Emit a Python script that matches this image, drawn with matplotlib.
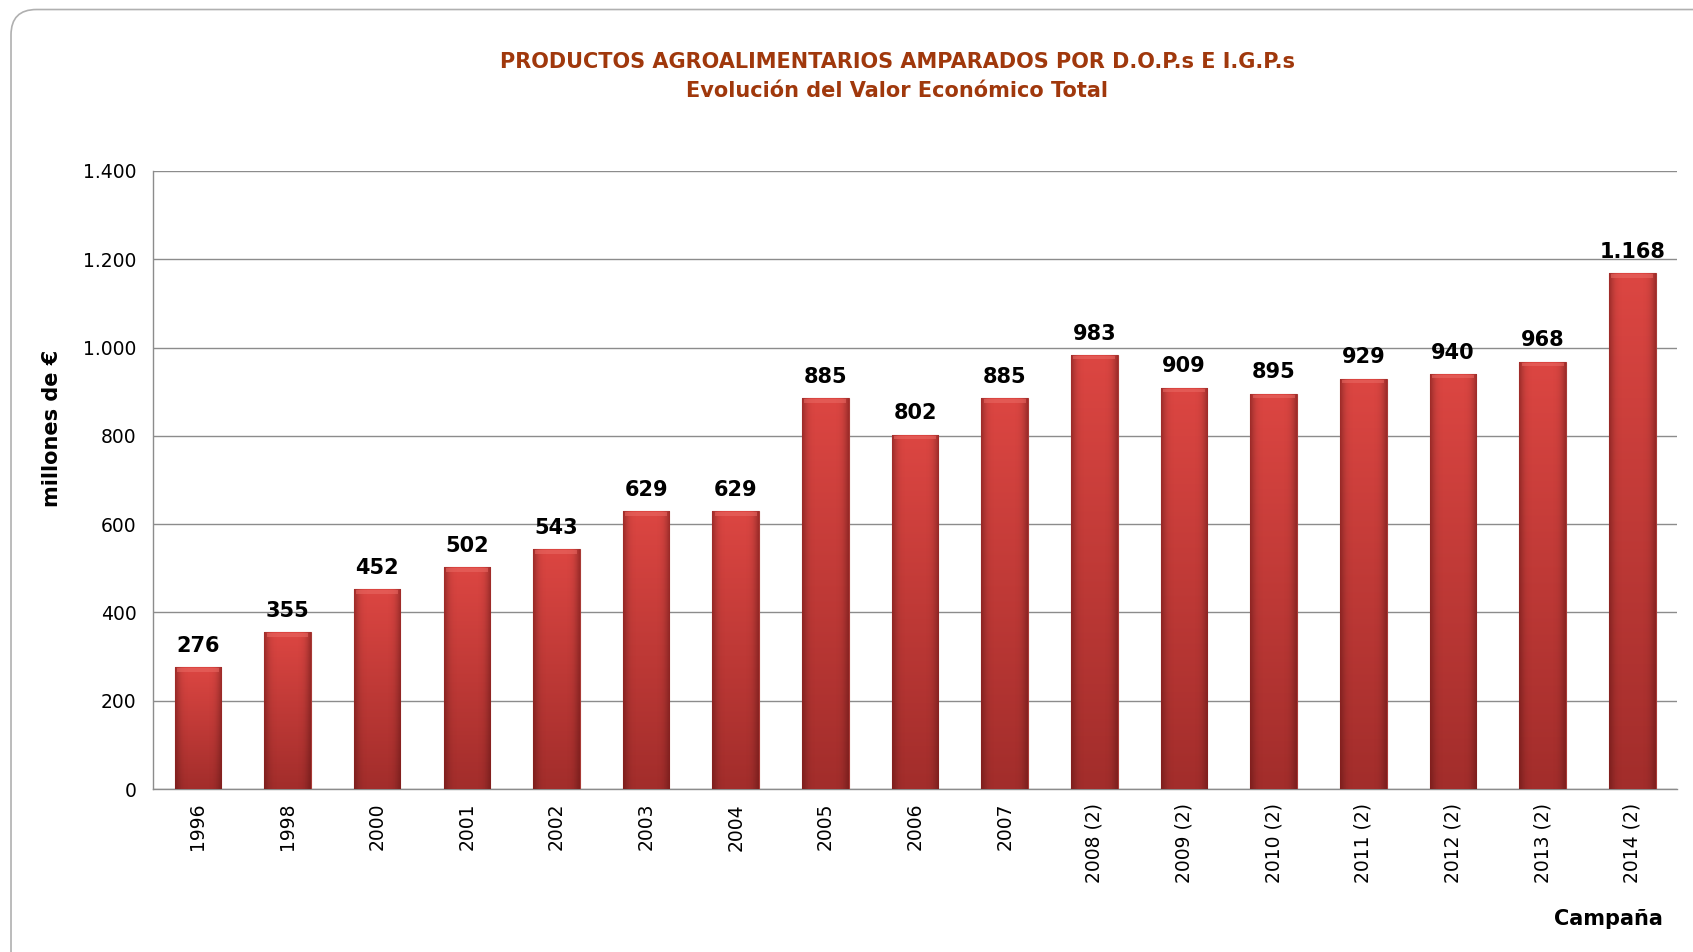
import numpy as np
import matplotlib
matplotlib.use("Agg")
import matplotlib.pyplot as plt
from matplotlib.patches import FancyBboxPatch
from matplotlib.colors import LinearSegmentedColormap

campanas = ["1996", "1998", "2000", "2001", "2002", "2003", "2004", "2005", "2006",
            "2007", "2008 (2)", "2009 (2)", "2010 (2)", "2011 (2)", "2012 (2)",
            "2013 (2)", "2014 (2)"]
valores = [276, 355, 452, 502, 543, 629, 629, 885, 802, 885, 983, 909, 895, 929,
           940, 968, 1168]
yticks = [0, 200, 400, 600, 800, 1000, 1200, 1400]

def miles(v):
    return f"{v:,}".replace(",", ".")

plt.rcParams['font.family'] = ['DejaVu Sans']

fig = plt.figure(figsize=(16.93, 9.52), dpi=100)
ax = fig.add_axes([0.0904, 0.1712, 0.9002, 0.6492])

# rounded frame around the chart
frame = FancyBboxPatch((0.0065, -0.05), 1.05, 1.04, boxstyle="round,pad=0,rounding_size=0.015",
                       transform=fig.transFigure, fill=False, edgecolor="#b0b0b0",
                       linewidth=1.2, mutation_aspect=1.78)
fig.patches.append(frame)

x = np.arange(len(campanas))
bars = ax.bar(x, valores, width=0.52, color="#c93a36", edgecolor="#a83a36",
              linewidth=0.8, zorder=3)

# vertical gradient in each bar, plus darker sides
grad = LinearSegmentedColormap.from_list("rojo", ["#a22d2b", "#dc4642"])
g = np.linspace(0, 1, 256).reshape(-1, 1)
side = np.abs(np.linspace(-1, 1, 64)) ** 6
side = side.reshape(1, -1)
sombra = LinearSegmentedColormap.from_list("sombra", [(0, 0, 0, 0), (0.35, 0.05, 0.05, 0.45)])
for b in bars:
    x0, y0 = b.get_x(), b.get_y()
    w, h = b.get_width(), b.get_height()
    im = ax.imshow(g, cmap=grad, aspect="auto", origin="lower",
                   extent=[x0, x0 + w, y0, y0 + h], zorder=3.5)
    im.set_clip_path(b)
    im2 = ax.imshow(side, cmap=sombra, aspect="auto", origin="lower",
                    extent=[x0, x0 + w, y0, y0 + h], zorder=3.6)
    im2.set_clip_path(b)
    # lighter cap at the top
    ax.fill_between([x0 + w * 0.05, x0 + w * 0.95], y0 + h - 10, y0 + h - 2,
                    color="#ea6a64", alpha=0.55, zorder=4, linewidth=0)

for xi, v in zip(x, valores):
    ax.text(xi, v + 26, miles(v), ha="center", va="bottom", fontsize=15,
            fontweight="bold", color="black", zorder=5)

ax.set_xlim(-0.5, len(campanas) - 0.5)
ax.set_ylim(0, 1400)
ax.set_yticks(yticks)
ax.set_yticklabels([miles(t) for t in yticks], fontsize=13.5)
ax.set_xticks(x)
ax.set_xticklabels(campanas, rotation=90, fontsize=13.5)
ax.tick_params(axis="both", length=0, pad=12)
ax.tick_params(axis="x", pad=10)

ax.yaxis.grid(True, color="#8c8c8c", linewidth=1.0, zorder=0)
ax.set_axisbelow(True)
for s in ["top", "right"]:
    ax.spines[s].set_visible(False)
for s in ["left", "bottom"]:
    ax.spines[s].set_color("#8c8c8c")
    ax.spines[s].set_linewidth(1.0)

fig.text(0.0305, 0.55, "millones de €", rotation=90, ha="center", va="center",
         fontsize=15, fontweight="bold")
fig.text(0.982, 0.024, "Campaña", ha="right", va="bottom", fontsize=15, fontweight="bold")

fig.text(0.53, 0.935, "PRODUCTOS AGROALIMENTARIOS AMPARADOS POR D.O.P.s E I.G.P.s",
         ha="center", va="center", fontsize=15, fontweight="bold", color="#a0380c")
fig.text(0.53, 0.904, "Evolución del Valor Económico Total",
         ha="center", va="center", fontsize=15, fontweight="bold", color="#a0380c")

fig.savefig("out.png", dpi=100)
